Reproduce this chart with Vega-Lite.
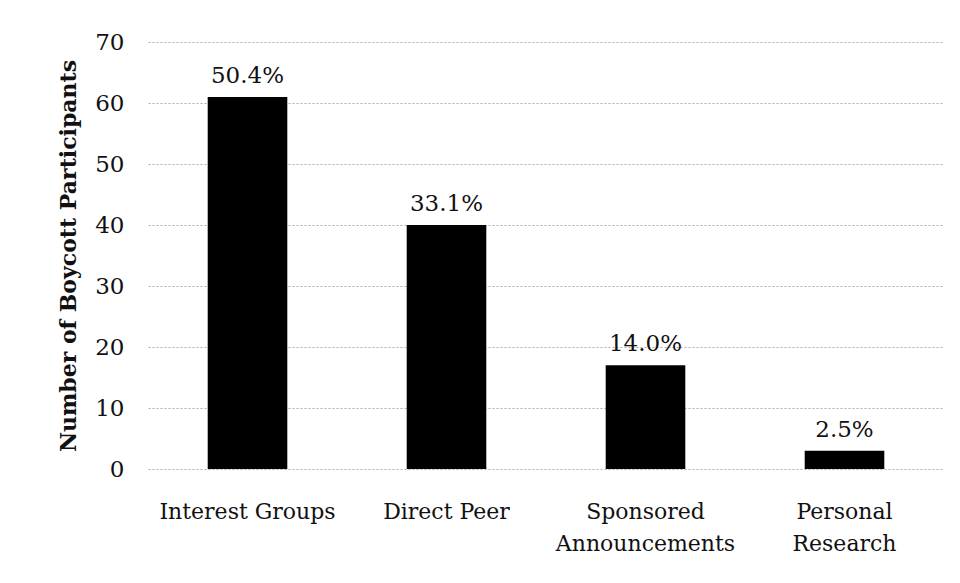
{
  "$schema": "https://vega.github.io/schema/vega-lite/v6.json",
  "autosize": {"type": "none"},
  "width": 796,
  "height": 427,
  "padding": {"left": 148, "top": 42, "right": 16, "bottom": 114},
  "background": "white",
  "data": {
    "values": [
      {"source": "Interest Groups", "count": 61, "pct": "50.4%"},
      {"source": "Direct Peer", "count": 40, "pct": "33.1%"},
      {"source": "Sponsored Announcements", "count": 17, "pct": "14.0%"},
      {"source": "Personal Research", "count": 3, "pct": "2.5%"}
    ]
  },
  "config": {
    "font": "DejaVu Serif",
    "view": {"stroke": null},
    "axis": {"labelFont": "DejaVu Serif", "titleFont": "DejaVu Serif", "labelColor": "#111", "titleColor": "#111"}
  },
  "encoding": {
    "x": {
      "field": "source",
      "type": "nominal",
      "sort": null,
      "scale": {"paddingInner": 0.6, "paddingOuter": 0.3},
      "axis": {
        "title": null,
        "labelAngle": 0,
        "labelFontSize": 22,
        "labelPadding": 32,
        "labelLineHeight": 32,
        "ticks": false,
        "domain": false,
        "labelExpr": "datum.label == 'Sponsored Announcements' ? ['Sponsored', 'Announcements'] : datum.label == 'Personal Research' ? ['Personal', 'Research'] : datum.label"
      }
    },
    "y": {
      "field": "count",
      "type": "quantitative",
      "scale": {"domain": [0, 70]},
      "axis": {
        "title": "Number of Boycott Participants",
        "titleFontSize": 22,
        "titleFontWeight": "bold",
        "titlePadding": 14,
        "values": [0, 10, 20, 30, 40, 50, 60, 70],
        "labelFontSize": 23,
        "labelPadding": 24,
        "ticks": false,
        "domain": false,
        "grid": true,
        "gridColor": "#777",
        "gridDash": [2, 2],
        "gridOpacity": 0.6,
        "gridWidth": 1
      }
    }
  },
  "layer": [
    {"mark": {"type": "bar", "color": "black"}},
    {
      "mark": {"type": "text", "baseline": "bottom", "dy": -9, "fontSize": 23, "color": "#111"},
      "encoding": {"text": {"field": "pct"}}
    }
  ]
}
